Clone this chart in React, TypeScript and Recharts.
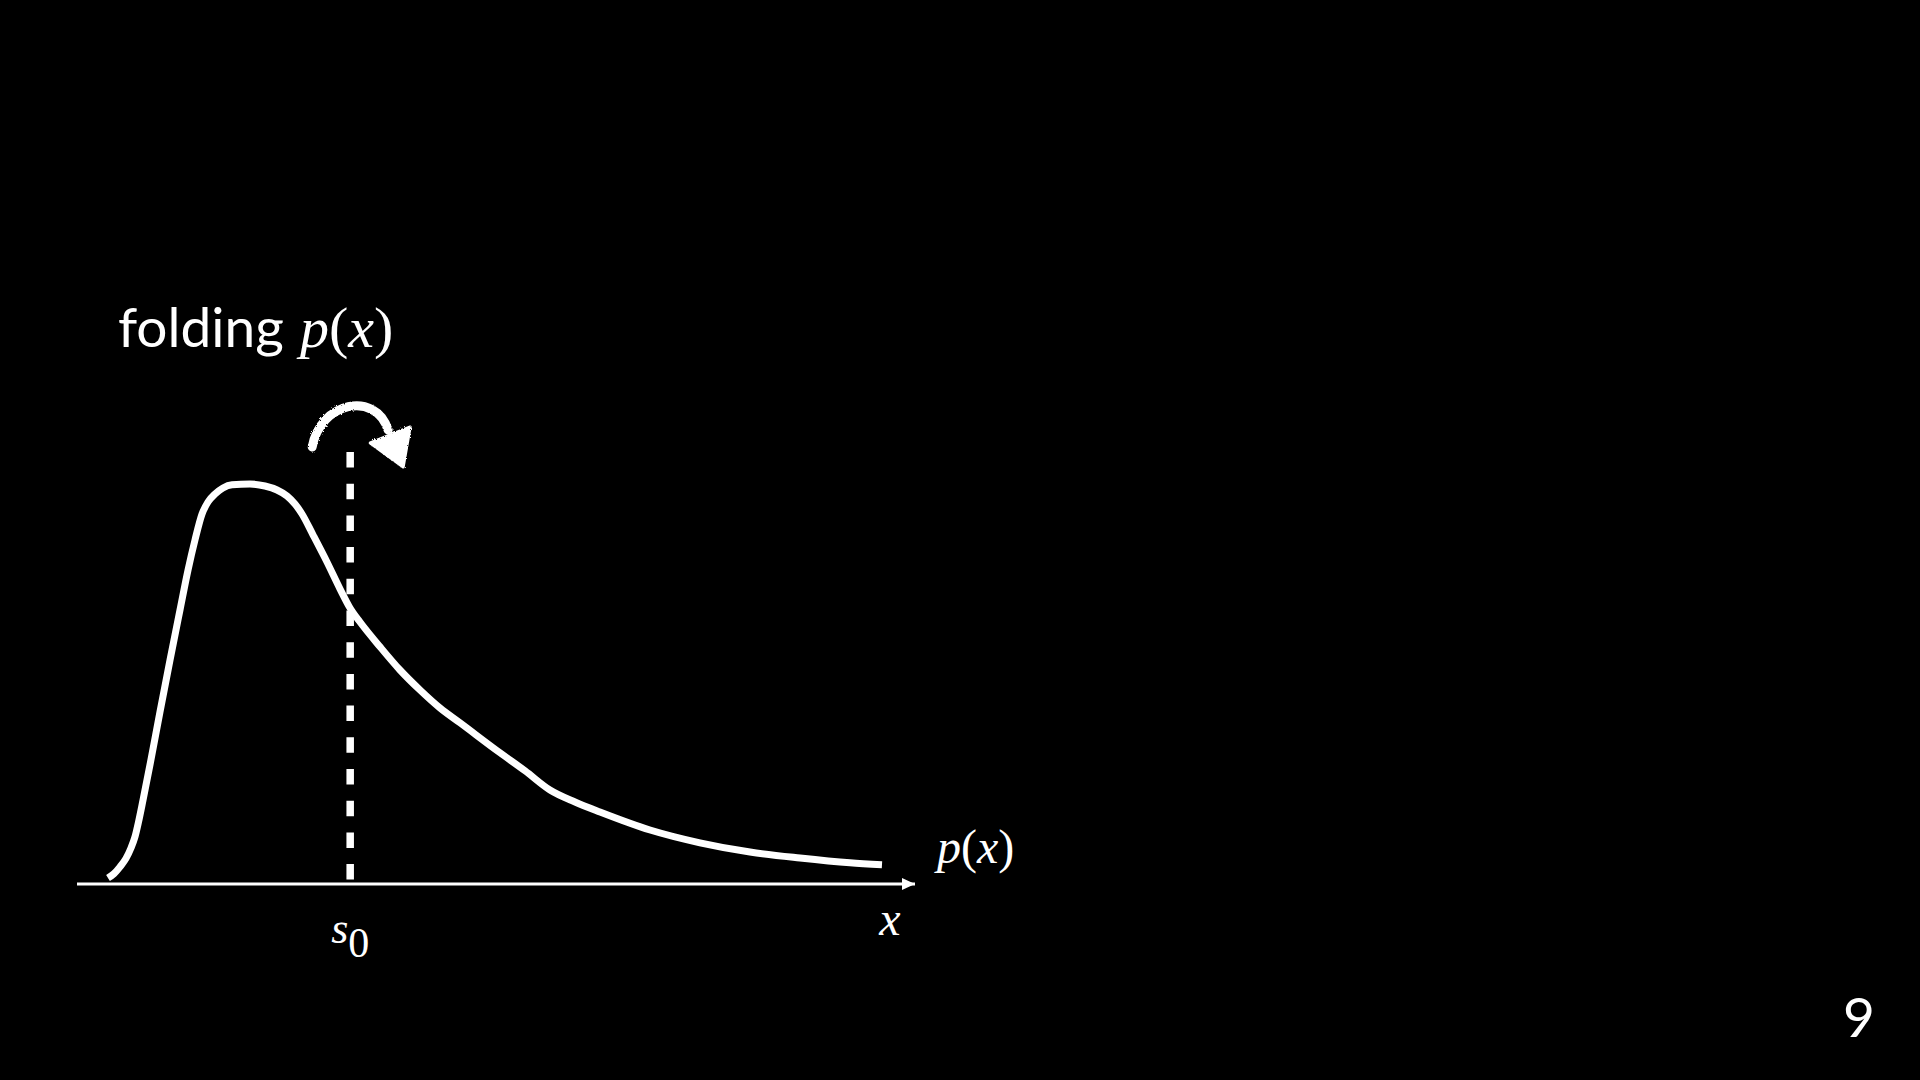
import React from "react"
import { LineChart, Line, XAxis, YAxis, ReferenceLine } from "recharts"

// curve (x in 0..100 along the arrow axis, y in 0..120)
const xs = [
  3.7, 4.42, 5.13, 5.85, 6.44, 6.92, 7.34, 7.88, 8.71, 9.9, 11.1, 12.29, 13.25, 14.08, 14.92, 15.63,
  16.47, 17.42, 18.5, 20.64, 22.43, 23.87, 25.06, 26.01, 26.85, 28.16, 29.83, 31.38, 32.58, 33.77,
  36.16, 38.54, 40.93, 43.32, 45.7, 50.48, 53.46, 56.44, 59.43, 62.41, 68.38, 74.34, 80.31, 86.28,
  92.24, 96.06,
]
const ys = [
  1.5, 2.6, 4.3, 6.4, 9.0, 11.8, 15.5, 21.0, 29.8, 43.0, 56.0, 68.5, 78.5, 86.0, 92.5, 95.5,
  97.5, 99.0, 99.8, 100, 99.5, 98.5, 97.0, 95.0, 92.5, 87.3, 80.5, 73.8, 69.0, 65.5,
  59.3, 53.5, 48.5, 44.0, 40.3, 32.8, 28.3, 23.5, 20.5, 18.0, 13.5, 10.3, 8.0, 6.5,
  5.3, 4.8,
]
const s0 = 32.6
const foldTop = 108
const xLabelAt = 97
const tickValues = [s0, xLabelAt]

const data = xs.map((x, i) => ({ x, p: ys[i] }))

const serif = '"Liberation Serif", "Times New Roman", serif'
const sans = 'Lato, "Open Sans", sans-serif'

function AxisTick(props: any) {
  const { x, y, payload } = props
  if (payload.value === s0) {
    return (
      <text x={x} y={y + 59} textAnchor="middle" fill="#fff" style={{ fontFamily: serif }}>
        <tspan fontStyle="italic" fontSize={44}>s</tspan>
        <tspan fontSize={42} dy={14}>0</tspan>
      </text>
    )
  }
  return (
    <text x={x} y={y + 51} textAnchor="middle" fill="#fff" fontSize={48} fontStyle="italic" style={{ fontFamily: serif }}>
      x
    </text>
  )
}

function FoldArrow(props: any) {
  const vb = props.viewBox || {}
  const cx = vb.x ?? 0
  const top = vb.y ?? 0
  return (
    <g transform={`translate(${cx},${top})`} filter="url(#chalk)">
      <path d="M -38 -5 C -30 -50 25 -62 38 -22" fill="none" stroke="#fff" strokeWidth={9} strokeLinecap="round" />
      <path d="M 20 -9 L 60 -25 L 53 15 Z" fill="#fff" stroke="#fff" strokeWidth={3} strokeLinejoin="round" />
    </g>
  )
}

function CurveLabel(props: any) {
  const { x, y, index } = props
  if (index !== data.length - 1) return null
  return (
    <text x={x + 55} y={y - 2} fill="#fff" fontSize={48} style={{ fontFamily: serif }}>
      <tspan fontStyle="italic">p</tspan>
      <tspan>(</tspan>
      <tspan fontStyle="italic">x</tspan>
      <tspan>)</tspan>
    </text>
  )
}

export default function App() {
  return (
    <div style={{ position: "fixed", left: 0, top: 0, width: 1920, height: 1080, background: "#000" }}>
      <LineChart
        width={1920}
        height={1080}
        data={data}
        margin={{ top: 404, right: 1005, left: 77, bottom: 136 }}
      >
        <defs>
          <marker
            id="axisArrow"
            markerUnits="userSpaceOnUse"
            markerWidth={14}
            markerHeight={14}
            viewBox="0 0 14 14"
            refX={13}
            refY={7}
            orient="auto"
          >
            <path d="M0,1 L13,7 L0,13 z" fill="#fff" />
          </marker>
          <filter id="chalk" x="-20%" y="-20%" width="140%" height="140%">
            <feTurbulence type="fractalNoise" baseFrequency="0.9" numOctaves={2} result="noise" />
            <feDisplacementMap in="SourceGraphic" in2="noise" scale={3} />
          </filter>
        </defs>
        <XAxis
          dataKey="x"
          type="number"
          domain={[0, 100]}
          ticks={tickValues}
          tick={<AxisTick />}
          tickLine={false}
          tickSize={0}
          tickMargin={0}
          height={60}
          axisLine={{ stroke: "#fff", strokeWidth: 3, markerEnd: "url(#axisArrow)" }}
        />
        <YAxis type="number" domain={[0, 120]} hide />
        <ReferenceLine
          segment={[
            { x: s0, y: foldTop },
            { x: s0, y: 0 },
          ]}
          stroke="#fff"
          strokeWidth={7.5}
          strokeDasharray="15.5 16.2"
          label={(p: any) => <FoldArrow viewBox={p.viewBox} />}
        />
        <Line
          type="monotone"
          dataKey="p"
          stroke="#fff"
          strokeWidth={7}
          dot={false}
          activeDot={false}
          isAnimationActive={false}
          label={CurveLabel}
        />
      </LineChart>
      <svg width={1920} height={1080} style={{ position: "absolute", left: 0, top: 0, pointerEvents: "none" }}>
        <text x={118} y={347} fill="#fff" fontSize={55} style={{ fontFamily: sans }}>
          folding
        </text>
        <text x={300} y={347} fill="#fff" fontSize={58} style={{ fontFamily: serif }}>
          <tspan fontStyle="italic">p</tspan>
          <tspan>(</tspan>
          <tspan fontStyle="italic">x</tspan>
          <tspan>)</tspan>
        </text>
        <text x={1843} y={1037} fill="#fff" fontSize={55} style={{ fontFamily: sans }}>
          9
        </text>
      </svg>
    </div>
  )
}
